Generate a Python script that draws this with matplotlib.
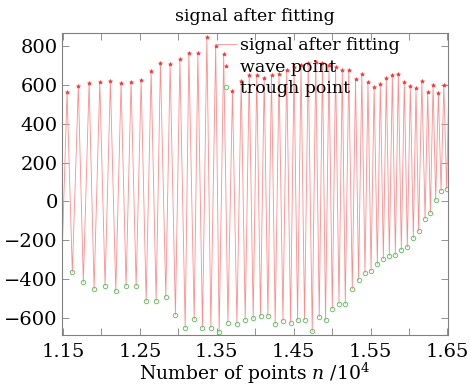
import matplotlib
matplotlib.use('Agg')
import matplotlib.pyplot as plt
import numpy as np

# extrema (x in units of 10^4 points)
peak_x = [1.1552, 1.1699, 1.1839, 1.1978, 1.2116, 1.2255, 1.2385, 1.2516, 1.2646, 1.2767,
          1.2893, 1.3020, 1.3137, 1.3254, 1.3371, 1.3486, 1.3590, 1.3704, 1.3818, 1.3922,
          1.4020, 1.4117, 1.4212, 1.4310, 1.4410, 1.4505, 1.4596, 1.4690, 1.4788, 1.4875,
          1.4960, 1.5046, 1.5133, 1.5217, 1.5305, 1.5387, 1.5467, 1.5547, 1.5628, 1.5706,
          1.5784, 1.5862, 1.5940, 1.6018, 1.6092, 1.6168, 1.6244, 1.6314, 1.6383, 1.6454]
peak_y = [562, 594, 611, 616, 620, 610, 616, 625, 670, 714,
          706, 732, 766, 762, 845, 800, 759, 567, 620, 650,
          652, 638, 652, 658, 678, 690, 705, 712, 719, 712,
          705, 692, 676, 676, 630, 656, 613, 590, 607, 634,
          651, 655, 617, 594, 584, 620, 565, 600, 560, 600]

trough_x = [1.1621, 1.1764, 1.1904, 1.2047, 1.2186, 1.2320, 1.2451, 1.2581, 1.2711, 1.2837,
            1.2962, 1.3089, 1.3206, 1.3314, 1.3423, 1.3531, 1.3645, 1.3762, 1.3870, 1.3974,
            1.4069, 1.4165, 1.4260, 1.4361, 1.4460, 1.4551, 1.4642, 1.4742, 1.4833, 1.4915,
            1.5003, 1.5090, 1.5172, 1.5263, 1.5345, 1.5428, 1.5507, 1.5589, 1.5667, 1.5745,
            1.5823, 1.5901, 1.5979, 1.6057, 1.6126, 1.6210, 1.6279, 1.6348, 1.6418, 1.6491]
trough_y = [-365, -416, -451, -434, -463, -437, -437, -514, -512, -492,
            -583, -650, -607, -650, -650, -674, -624, -631, -610, -602,
            -590, -590, -631, -614, -624, -610, -610, -670, -595, -612,
            -554, -526, -529, -451, -406, -367, -357, -324, -296, -279,
            -274, -250, -236, -187, -152, -89, -58, 7, 54, 66]

start_pt = (1.1487, -290)
end_pt = (1.6515, 520)

# signal: start, peak, trough, peak, trough, ..., end
sig_x = [start_pt[0]]
sig_y = [start_pt[1]]
for px, py, tx, ty in zip(peak_x, peak_y, trough_x, trough_y):
    sig_x += [px, tx]
    sig_y += [py, ty]
sig_x.append(end_pt[0])
sig_y.append(end_pt[1])

plt.rcParams['font.family'] = 'DejaVu Serif'
plt.rcParams['mathtext.fontset'] = 'dejavuserif'

fig = plt.figure(figsize=(4.7, 3.85), dpi=100)
ax = fig.add_axes([0.132, 0.130, 0.821, 0.784])

ax.plot(sig_x, sig_y, color='#ff8c8c', lw=0.6, label='signal after fitting')
ax.plot(peak_x, peak_y, ls='none', marker='*', ms=3, color='#ff3030',
        mew=0.4, label='wave point')
ax.plot(trough_x, trough_y, ls='none', marker='o', ms=3.2, mfc='none',
        mec='#70c070', mew=0.7, label='trough point')

ax.set_xlim(1.1487, 1.6507)
ax.set_ylim(-688, 867)
ax.set_xticks([1.15, 1.25, 1.35, 1.45, 1.55, 1.65])
ax.set_xticklabels(['1.15', '1.25', '1.35', '1.45', '1.55', '1.65'])
ax.set_xticks([1.20, 1.30, 1.40, 1.50, 1.60], minor=True)
ax.set_yticks([-600, -400, -200, 0, 200, 400, 600, 800])

ax.tick_params(which='both', direction='in', top=True, right=True,
               length=5, width=0.6, color='#808080', labelsize=14)
ax.tick_params(axis='x', pad=6)
ax.tick_params(axis='y', pad=3)
for s in ax.spines.values():
    s.set_color('#808080')
    s.set_linewidth(0.8)

ax.set_title('signal after fitting', fontsize=12.5, pad=9)
ax.set_xlabel('Number of points $n$ /10$^4$', fontsize=13.5, labelpad=0)

ax.legend(loc='upper left', bbox_to_anchor=(0.37, 1.02), frameon=False,
          fontsize=12.5, handlelength=1.2, handletextpad=0.2,
          labelspacing=0.25, borderaxespad=0.2)

fig.savefig('out.png', dpi=100)
